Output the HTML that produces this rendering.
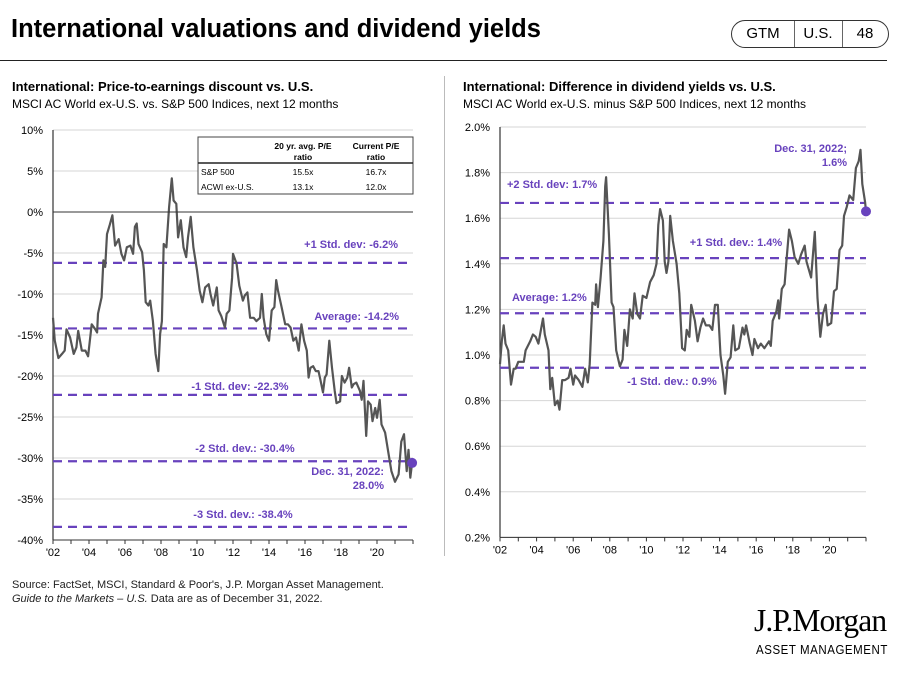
<!DOCTYPE html>
<html><head><meta charset="utf-8"><style>
body{margin:0;background:#fff;font-family:"Liberation Sans",Arial,sans-serif;}
#wrap{position:relative;width:904px;height:674px;overflow:hidden;}
.t{position:absolute;white-space:nowrap;color:#000;}
</style></head><body><div id="wrap">
<div class="t" style="left:11px;top:15px;font-size:25.5px;font-weight:bold;letter-spacing:0px;">International valuations and dividend yields</div>
<div style="position:absolute;left:731px;top:20px;width:156px;height:26px;border:1px solid #333;border-radius:14px;font-size:15px;">
<span style="position:absolute;left:0;width:62px;text-align:center;top:4px;">GTM</span>
<span style="position:absolute;left:62px;top:0;height:26px;border-left:1px solid #666;"></span>
<span style="position:absolute;left:62px;width:48px;text-align:center;top:4px;">U.S.</span>
<span style="position:absolute;left:110px;top:0;height:26px;border-left:1px solid #666;"></span>
<span style="position:absolute;left:110px;width:46px;text-align:center;top:4px;">48</span>
</div>
<div style="position:absolute;left:0;top:60px;width:887px;height:1px;background:#222;"></div>
<div class="t" style="left:12px;top:79px;font-size:13px;font-weight:bold;">International: Price-to-earnings discount vs. U.S.</div>
<div class="t" style="left:12px;top:97px;font-size:12px;">MSCI AC World ex-U.S. vs. S&amp;P 500 Indices, next 12 months</div>
<div class="t" style="left:463px;top:79px;font-size:13px;font-weight:bold;">International: Difference in dividend yields vs. U.S.</div>
<div class="t" style="left:463px;top:97px;font-size:12px;">MSCI AC World ex-U.S. minus S&amp;P 500 Indices, next 12 months</div>
<div style="position:absolute;left:444px;top:76px;width:1px;height:480px;background:#bbb;"></div>
<div class="t" style="left:12px;top:579px;font-size:11px;color:#222;">Source: FactSet, MSCI, Standard &amp; Poor's, J.P. Morgan Asset Management.</div>
<div class="t" style="left:12px;top:593px;font-size:11px;color:#222;"><i>Guide to the Markets – U.S.</i> Data are as of December 31, 2022.</div>
<div class="t" style="left:754px;top:603px;font-family:'Liberation Serif',serif;font-size:31.5px;letter-spacing:-0.9px;">J.P.Morgan</div>
<div class="t" style="left:756px;top:643px;font-size:12.5px;letter-spacing:0.6px;transform:scaleX(0.92);transform-origin:left;">ASSET MANAGEMENT</div>
<svg id="svg" width="904" height="674" style="position:absolute;left:0;top:0"></svg>
</div>
<script>
// Left chart data
const peYears=[2002.0,2002.1,2002.3,2002.5,2002.65,2002.75,2002.95,2003.15,2003.3,2003.4,2003.6,2003.8,2003.95,2004.15,2004.35,2004.45,2004.5,2004.7,2004.8,2004.9,2005.0,2005.15,2005.3,2005.45,2005.65,2005.8,2005.95,2006.1,2006.3,2006.45,2006.55,2006.65,2006.75,2006.95,2007.05,2007.15,2007.3,2007.4,2007.55,2007.7,2007.85,2007.95,2008.05,2008.15,2008.3,2008.45,2008.6,2008.7,2008.85,2008.95,2009.1,2009.25,2009.4,2009.5,2009.65,2009.8,2010.0,2010.15,2010.3,2010.45,2010.65,2010.75,2010.9,2011.1,2011.2,2011.35,2011.55,2011.65,2011.8,2011.95,2012.0,2012.2,2012.35,2012.55,2012.65,2012.8,2012.95,2013.15,2013.3,2013.5,2013.6,2013.7,2013.85,2014.0,2014.15,2014.3,2014.4,2014.5,2014.7,2014.9,2015.05,2015.2,2015.35,2015.5,2015.65,2015.8,2015.95,2016.1,2016.2,2016.3,2016.45,2016.6,2016.75,2016.85,2017.0,2017.1,2017.2,2017.35,2017.5,2017.65,2017.75,2017.95,2018.05,2018.2,2018.35,2018.45,2018.6,2018.7,2018.85,2019.05,2019.15,2019.25,2019.4,2019.5,2019.65,2019.75,2019.9,2020.0,2020.15,2020.25,2020.45,2020.65,2020.8,2021.0,2021.2,2021.35,2021.5,2021.65,2021.75,2021.85,2021.95];
const peValues=[-12.9,-15.7,-17.8,-17.3,-16.9,-14.3,-15.3,-17.3,-16.5,-14.5,-16.9,-16.9,-17.6,-13.7,-14.3,-14.7,-12.4,-10.4,-5.9,-6.7,-2.7,-1.6,-0.4,-4.1,-3.3,-5.1,-5.9,-4.3,-4.1,-5.1,-1.8,-1.4,-3.9,-4.9,-7.1,-11.0,-11.4,-10.8,-13.3,-17.3,-19.4,-14.9,-13.3,-3.9,-4.3,0.6,4.1,1.4,1.0,-3.1,-1.0,-4.3,-5.5,-3.1,-0.6,-4.3,-7.1,-9.6,-11.0,-9.2,-8.8,-10.0,-11.4,-9.2,-12.0,-12.7,-14.1,-12.4,-12.0,-8.0,-5.1,-6.3,-9.0,-10.8,-10.2,-9.8,-12.9,-12.9,-13.3,-12.9,-10.0,-12.9,-14.9,-15.7,-12.0,-11.6,-8.3,-9.6,-11.6,-13.7,-13.7,-14.1,-15.7,-15.3,-16.9,-13.7,-15.7,-16.9,-20.2,-19.0,-18.8,-19.4,-19.4,-20.4,-22.0,-20.2,-19.8,-15.7,-19.0,-21.8,-23.3,-23.1,-20.0,-20.8,-20.2,-19.0,-21.4,-21.0,-20.8,-21.8,-22.9,-20.6,-27.3,-23.1,-23.5,-25.5,-23.9,-25.1,-22.9,-25.9,-26.9,-29.6,-31.6,-32.9,-32.0,-28.0,-27.1,-31.6,-29.0,-32.4,-30.6];
const peTicks=[10,5,0,-5,-10,-15,-20,-25,-30,-35,-40];
const peBands=[-6.2,-14.2,-22.3,-30.4,-38.4];
const yearTicks=[2002,2004,2006,2008,2010,2012,2014,2016,2018,2020];
// Right chart data
const dyYears=[2002.0,2002.1,2002.2,2002.3,2002.45,2002.6,2002.75,2002.85,2003.0,2003.2,2003.3,2003.4,2003.65,2003.8,2003.95,2004.1,2004.35,2004.45,2004.65,2004.75,2004.85,2005.0,2005.15,2005.25,2005.4,2005.55,2005.75,2005.85,2006.0,2006.1,2006.3,2006.5,2006.65,2006.8,2006.9,2007.05,2007.2,2007.25,2007.35,2007.5,2007.65,2007.75,2007.8,2007.95,2008.1,2008.2,2008.35,2008.55,2008.7,2008.8,2008.95,2009.1,2009.25,2009.35,2009.5,2009.65,2009.8,2010.0,2010.2,2010.4,2010.55,2010.65,2010.75,2010.9,2011.0,2011.1,2011.2,2011.3,2011.45,2011.65,2011.8,2011.95,2012.1,2012.2,2012.35,2012.45,2012.65,2012.8,2012.95,2013.1,2013.25,2013.45,2013.6,2013.75,2013.9,2014.05,2014.2,2014.3,2014.45,2014.6,2014.75,2014.85,2015.05,2015.25,2015.35,2015.45,2015.65,2015.8,2015.9,2016.1,2016.25,2016.45,2016.7,2016.8,2016.9,2017.1,2017.2,2017.25,2017.4,2017.55,2017.65,2017.8,2017.95,2018.1,2018.3,2018.45,2018.65,2018.75,2019.0,2019.2,2019.35,2019.5,2019.65,2019.8,2019.9,2020.1,2020.25,2020.4,2020.55,2020.7,2020.8,2020.95,2021.1,2021.3,2021.45,2021.6,2021.7,2021.8,2021.95,2022.0];
const dyValues=[0.96,1.06,1.13,1.05,1.02,0.87,0.94,0.94,0.97,0.97,0.97,1.02,1.06,1.09,1.08,1.05,1.16,1.09,1.02,0.85,0.90,0.78,0.80,0.76,0.89,0.89,0.90,0.94,0.87,0.91,0.89,0.86,0.94,0.88,0.96,1.23,1.22,1.31,1.21,1.34,1.50,1.74,1.78,1.53,1.23,1.21,1.02,0.95,0.98,1.11,1.04,1.20,1.16,1.27,1.18,1.16,1.26,1.25,1.32,1.35,1.40,1.57,1.64,1.59,1.41,1.36,1.41,1.61,1.50,1.40,1.27,1.03,1.02,1.11,1.08,1.22,1.15,1.06,1.12,1.16,1.13,1.13,1.11,1.22,1.22,1.00,0.91,0.83,0.97,0.99,1.13,1.02,1.03,1.12,1.09,1.13,1.05,1.00,1.07,1.03,1.05,1.03,1.06,1.04,1.15,1.19,1.24,1.16,1.29,1.31,1.41,1.55,1.50,1.43,1.40,1.44,1.48,1.41,1.34,1.54,1.25,1.08,1.18,1.22,1.13,1.14,1.28,1.29,1.46,1.48,1.61,1.65,1.70,1.68,1.82,1.85,1.90,1.75,1.67,1.63];
const dyTicks=[2.0,1.8,1.6,1.4,1.2,1.0,0.8,0.6,0.4,0.2];
const dyBands=[1.667,1.425,1.183,0.944];

const NS='http://www.w3.org/2000/svg';
const svg=document.getElementById('svg');
const PUR='#6842bd';
function mk(tag,attrs,parent){const e=document.createElementNS(NS,tag);for(const k in attrs)e.setAttribute(k,attrs[k]);(parent||svg).appendChild(e);return e;}
function txt(s,x,y,attrs){const e=mk('text',Object.assign({x:x,y:y,'font-size':11,'font-family':'Liberation Sans, Arial, sans-serif'},attrs||{}));e.textContent=s;return e;}

const lx=v=>53+(v-2002)*18, ly=v=>212-v*8.2;
const rx=v=>500+(v-2002)*18.3, ry=v=>127+(2.0-v)*228;

function drawChart(X,Y,ticks,fmt,x0,x1,bottomVal,years,vals,bands,prefix){
  const g=mk('g',{});
  
  
  ticks.forEach(t=>{
    const gl=mk('line',{x1:x0,x2:x1,y1:Y(t),y2:Y(t),stroke:'#d6d6d6','stroke-width':1},g);
    
    
    const tl=txt(fmt(t),x0-10,Y(t)+4,{'text-anchor':'end'});
    
    
  });
  for(let yr=2002;yr<=2022;yr++){
    const tm=mk('line',{x1:X(yr),x2:X(yr),y1:Y(bottomVal),y2:Y(bottomVal)+4,stroke:'#333'},g);
    
    
  }
  yearTicks.forEach(yr=>{
    const tl=txt("'"+String(yr).slice(2),X(yr),Y(bottomVal)+16,{'text-anchor':'middle'});
    
    
  });
  const ya=mk('line',{x1:x0,x2:x0,y1:Y(ticks[0]),y2:Y(bottomVal),stroke:'#333','stroke-width':1.2},g);
  
  
  bands.forEach(b=>{
    const bl=mk('line',{x1:x0,x2:x1,y1:Y(b),y2:Y(b),stroke:PUR,'stroke-width':2.2,'stroke-dasharray':'9 6'},g);
    
    
  });
  const d=years.map((yr,i)=>(i?'L':'M')+X(yr).toFixed(1)+' '+Y(vals[i]).toFixed(1)).join(' ');
  const p=mk('path',{d:d,fill:'none',stroke:'#555','stroke-width':2.2,'stroke-linejoin':'round'},g);
  
  
  const n=years.length-1;
  const c=mk('circle',{cx:X(years[n]),cy:Y(vals[n]),r:5,fill:PUR},g);
  
  
}
drawChart(lx,ly,peTicks,t=>t+'%',53,413,-40,peYears,peValues,peBands,'pe');
const z=mk('line',{x1:53,x2:413,y1:ly(0),y2:ly(0),stroke:'#333','stroke-width':1});


const lb=mk('line',{x1:53,x2:413,y1:ly(-40),y2:ly(-40),stroke:'#333','stroke-width':1});


drawChart(rx,ry,dyTicks,t=>t.toFixed(1)+'%',500,866,0.2,dyYears,dyValues,dyBands,'dy');
const rb=mk('line',{x1:500,x2:866,y1:ry(0.2),y2:ry(0.2),stroke:'#333','stroke-width':1});



const lab=[
 ['+1 Std. dev: -6.2%',398,248,'end','pe-plus1-label'],
 ['Average: -14.2%',399,320,'end','pe-average-label'],
 ['-1 Std. dev: -22.3%',240,390,'middle','pe-minus1-label'],
 ['-2 Std. dev.: -30.4%',245,452,'middle','pe-minus2-label'],
 ['Dec. 31, 2022:',384,475,'end','pe-latest-label'],
 ['28.0%',384,489,'end','pe-latest-value'],
 ['-3 Std. dev.: -38.4%',243,518,'middle','pe-minus3-label'],
 ['Dec. 31, 2022;',847,152,'end','dy-latest-label'],
 ['1.6%',847,166,'end','dy-latest-value'],
 ['+2 Std. dev: 1.7%',507,188,'start','dy-plus2-label'],
 ['+1 Std. dev.: 1.4%',736,246,'middle','dy-plus1-label'],
 ['Average: 1.2%',512,301,'start','dy-average-label'],
 ['-1 Std. dev.: 0.9%',672,385,'middle','dy-minus1-label']
];
lab.forEach(l=>{
  const e=txt(l[0],l[1],l[2],{'text-anchor':l[3],fill:PUR,'font-weight':'bold','font-size':11});
  
  
});

const tg=mk('g',{});


mk('rect',{x:198,y:137,width:215,height:57,fill:'#fff',stroke:'#444','stroke-width':1},tg);
mk('line',{x1:198,x2:413,y1:163,y2:163,stroke:'#222','stroke-width':1.5},tg);
const rows=[['20 yr. avg. P/E',303,149,'bold'],['ratio',303,160,'bold'],['Current P/E',376,149,'bold'],['ratio',376,160,'bold'],
 ['15.5x',303,175,'normal'],['16.7x',376,175,'normal'],['13.1x',303,190,'normal'],['12.0x',376,190,'normal']];
rows.forEach(r=>{const e=txt(r[0],r[1],r[2],{'text-anchor':'middle','font-size':8.5,'font-weight':r[3]});
 
 });
const r1=txt('S&P 500',201,175,{'font-size':8.5});


const r2=txt('ACWI ex-U.S.',201,190,{'font-size':8.5});


</script>
</body></html>
